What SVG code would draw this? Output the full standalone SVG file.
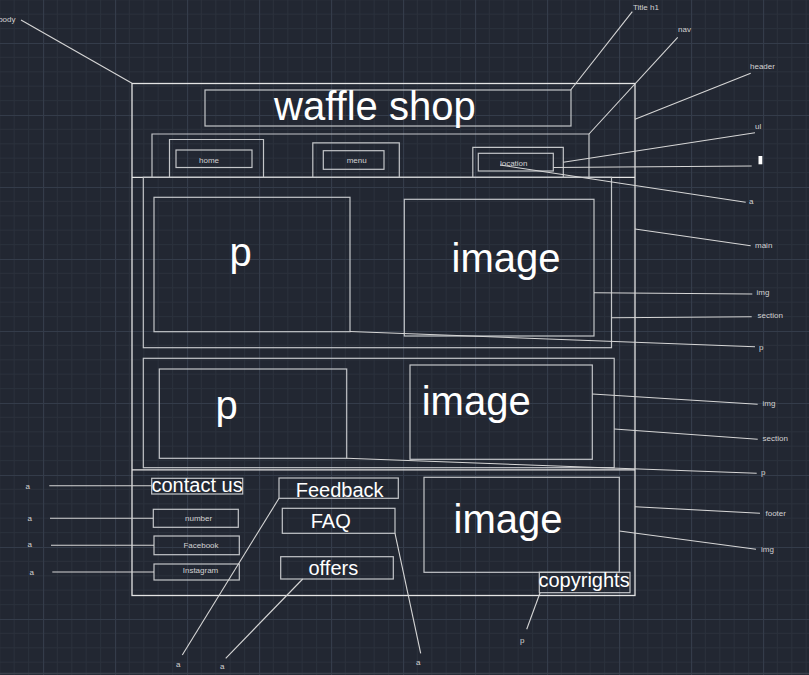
<svg xmlns="http://www.w3.org/2000/svg" width="809" height="675" viewBox="0 0 809 675">
<defs>
<pattern id="grid" x="43" y="43" width="72" height="72" patternUnits="userSpaceOnUse">
<path d="M14.4 0V72M28.8 0V72M43.2 0V72M57.6 0V72M0 14.4H72M0 28.8H72M0 43.2H72M0 57.6H72" stroke="#2a303b" stroke-width="1" fill="none"/>
<path d="M0.5 0V72M0 0.5H72" stroke="#343c4a" stroke-width="1.2" fill="none"/>
</pattern>
<style>
.box{fill:none;stroke:#e4e4e4;stroke-width:1.3}
.in{fill:none;stroke:#c4c6c9;stroke-width:1.2}
.ld{fill:none;stroke:#d6d6d6;stroke-width:1.1}
.big{font-family:"Liberation Sans",Arial,sans-serif;fill:#ffffff}
.sm{font-family:"Liberation Sans",Arial,sans-serif;font-size:8px;fill:#d2d2d2}
.md{font-family:"Liberation Sans",Arial,sans-serif;font-size:20px;fill:#ffffff}
</style>
</defs>
<rect width="809" height="675" fill="#222732"/>
<rect width="809" height="675" fill="url(#grid)"/>
<line x1="0" y1="673.5" x2="809" y2="673.5" stroke="#3a404b" stroke-width="1.5"/>

<g id="body"><rect class="box" x="132" y="83.5" width="503" height="512"/>
<line class="box" x1="132" y1="177.3" x2="635" y2="177.3"/>
<line class="box" x1="132" y1="469.8" x2="635" y2="469.8"/></g>

<g id="title-h1"><rect class="in" x="205" y="90" width="366" height="36"/>
<text class="big" x="274" y="120" font-size="40">waffle shop</text></g>

<g id="nav"><path class="in" d="M152 177.3V134H589V177.3"/></g>
<g id="li-home"><path class="in" d="M169.5 177.3V139.5H263.5V177.3"/>
<rect class="in" x="176" y="150" width="76" height="17.5"/>
<text class="sm" x="209" y="162.5" text-anchor="middle">home</text></g>
<g id="li-menu"><path class="in" d="M312.8 177.3V142.8H399.3V177.3"/>
<rect class="in" x="323.3" y="150.7" width="60.7" height="18.6"/>
<text class="sm" x="356.7" y="163.3" text-anchor="middle">menu</text></g>
<g id="li-location"><path class="in" d="M472.8 177.3V147.3H563.3V177.3"/>
<rect class="in" x="478.3" y="153.3" width="75" height="17.7"/>
<text class="sm" x="513.7" y="166.3" text-anchor="middle">location</text></g>

<g id="section1"><rect class="in" x="143.3" y="177.3" width="468.2" height="170.4"/></g>
<g id="p1"><rect class="in" x="154" y="197.3" width="196" height="134.4"/>
<text class="big" x="229.5" y="266" font-size="40">p</text></g>
<g id="img1"><rect class="in" x="404.3" y="199.3" width="189.7" height="136.7"/>
<text class="big" x="451.5" y="271.5" font-size="40">image</text></g>

<g id="section2"><rect class="in" x="143.3" y="358.3" width="470.9" height="109.4"/></g>
<g id="p2"><rect class="in" x="159.3" y="369" width="187.4" height="89.3"/>
<text class="big" x="215.5" y="419" font-size="40">p</text></g>
<g id="img2"><rect class="in" x="410" y="365" width="182.3" height="94.3"/>
<text class="big" x="421.7" y="415" font-size="40">image</text></g>

<g id="contact-us"><rect class="in" x="151.7" y="478.3" width="91" height="15.7"/>
<text class="md" x="151.5" y="492.3">contact us</text></g>
<g id="number"><rect class="in" x="153.3" y="509.3" width="85" height="18"/>
<text class="sm" x="198.6" y="521" text-anchor="middle">number</text></g>
<g id="facebook"><rect class="in" x="154" y="536" width="85.3" height="18.7"/>
<text class="sm" x="201" y="547.5" text-anchor="middle">Facebook</text></g>
<g id="instagram"><rect class="in" x="154" y="564" width="85.3" height="16"/>
<text class="sm" x="200.5" y="573" text-anchor="middle">Instagram</text></g>
<g id="feedback"><rect class="in" x="279" y="478" width="119.3" height="20.3"/>
<text class="md" x="295.7" y="496.5">Feedback</text></g>
<g id="faq"><rect class="in" x="282.3" y="508.3" width="112.7" height="25"/>
<text class="md" x="310.7" y="528">FAQ</text></g>
<g id="offers"><rect class="in" x="280.7" y="556.7" width="112.6" height="22.3"/>
<text class="md" x="308.5" y="575">offers</text></g>
<g id="img3"><rect class="in" x="424" y="477.3" width="195.3" height="95"/>
<text class="big" x="453.5" y="533" font-size="40">image</text></g>
<g id="copyrights"><rect class="in" x="539.3" y="572.3" width="90.7" height="20.4"/>
<text class="md" x="538.5" y="586.5">copyrights</text></g>

<g id="connectors">
<line class="ld" x1="132" y1="83.3" x2="21" y2="20"/>
<line class="ld" x1="570.7" y1="90" x2="632.3" y2="11.7"/>
<line class="ld" x1="589" y1="134" x2="677.7" y2="37.3"/>
<line class="ld" x1="635" y1="119.3" x2="750.7" y2="73.3"/>
<line class="ld" x1="563.3" y1="162.3" x2="755" y2="132.7"/>
<line class="ld" x1="553.3" y1="167.5" x2="751.7" y2="166"/>
<line class="ld" x1="500" y1="165" x2="745.7" y2="202.3"/>
<line class="ld" x1="635" y1="229" x2="750.7" y2="245.7"/>
<line class="ld" x1="594" y1="292.7" x2="752.3" y2="294"/>
<line class="ld" x1="611.5" y1="317.7" x2="751.7" y2="316.7"/>
<line class="ld" x1="350" y1="331.5" x2="755" y2="346.7"/>
<line class="ld" x1="592.3" y1="394" x2="757.7" y2="404.3"/>
<line class="ld" x1="614.2" y1="429" x2="757.7" y2="439.3"/>
<line class="ld" x1="346.7" y1="458.3" x2="756.7" y2="473.3"/>
<line class="ld" x1="635" y1="506.7" x2="760" y2="513.3"/>
<line class="ld" x1="619.3" y1="531" x2="756" y2="549.3"/>
<line class="ld" x1="49.3" y1="485.7" x2="151.7" y2="485.7"/>
<line class="ld" x1="50" y1="518.3" x2="153.3" y2="518.3"/>
<line class="ld" x1="51" y1="545.3" x2="154" y2="545.3"/>
<line class="ld" x1="52.3" y1="572" x2="154" y2="572"/>
<line class="ld" x1="279" y1="498.3" x2="182.3" y2="655"/>
<line class="ld" x1="302.7" y1="579" x2="225.7" y2="658.3"/>
<line class="ld" x1="395" y1="533.3" x2="420.7" y2="653.3"/>
<line class="ld" x1="540" y1="593" x2="526.7" y2="629.3"/>
<rect x="758.5" y="156" width="3.8" height="8.3" fill="#ffffff"/>
</g>

<g id="labels">
<text class="sm" x="15.5" y="22" text-anchor="end">body</text>
<text class="sm" x="633" y="9.5">Title h1</text>
<text class="sm" x="678" y="32">nav</text>
<text class="sm" x="750" y="68.5">header</text>
<text class="sm" x="755" y="129">ul</text>
<text class="sm" x="749" y="204">a</text>
<text class="sm" x="755" y="248">main</text>
<text class="sm" x="756.5" y="294.5">img</text>
<text class="sm" x="757.5" y="318">section</text>
<text class="sm" x="759" y="349.5">p</text>
<text class="sm" x="762.5" y="406">img</text>
<text class="sm" x="762.5" y="441">section</text>
<text class="sm" x="761" y="475">p</text>
<text class="sm" x="765.5" y="515.5">footer</text>
<text class="sm" x="761" y="551.5">img</text>
<text class="sm" x="25.5" y="489">a</text>
<text class="sm" x="27.5" y="520.5">a</text>
<text class="sm" x="27.5" y="547">a</text>
<text class="sm" x="29.5" y="575">a</text>
<text class="sm" x="176" y="667">a</text>
<text class="sm" x="220" y="669">a</text>
<text class="sm" x="416" y="664.5">a</text>
<text class="sm" x="520" y="642.5">p</text>
</g>
</svg>
